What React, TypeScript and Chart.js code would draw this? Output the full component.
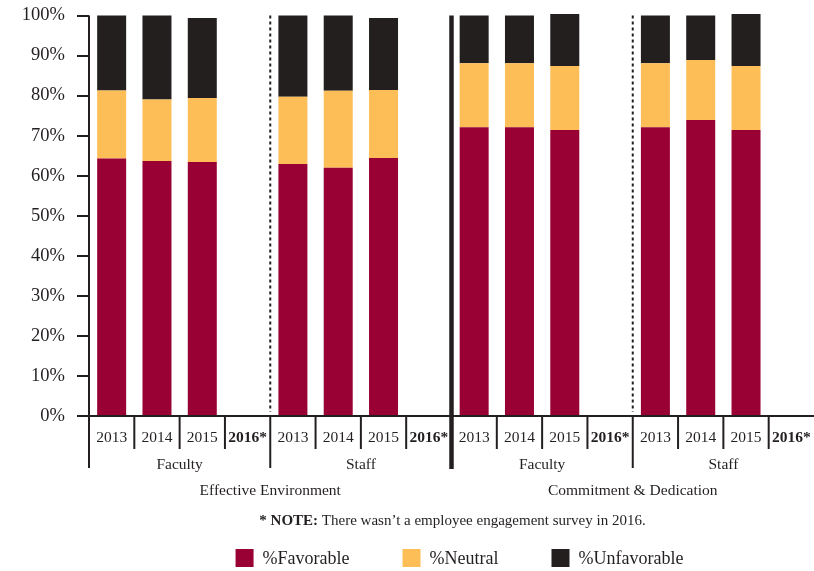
import React, { useEffect, useRef } from 'react';
import { Chart, registerables } from 'chart.js';

Chart.register(...registerables);

const years = ['2013', '2014', '2015', '2016*'];
const groups = ['Faculty', 'Staff', 'Faculty', 'Staff'];
const sections = ['Effective Environment', 'Commitment & Dedication'];
const categories = groups.flatMap(() => years);

const favorable = [64.3, 63.7, 63.4, null, 62.9, 62.0, 64.4, null, 72.1, 72.1, 71.4, null, 72.1, 73.9, 71.4, null];
const neutral = [17.0, 15.3, 16.0, null, 16.8, 19.2, 17.0, null, 16.0, 16.0, 16.0, null, 16.0, 15.0, 16.0, null];
const unfavorable = [18.7, 21.0, 20.0, null, 20.3, 18.8, 18.0, null, 11.9, 11.9, 13.0, null, 11.9, 11.1, 13.0, null];

const seriesNames = ['%Favorable', '%Neutral', '%Unfavorable'];
const seriesColors = ['#990033', '#FDBE57', '#221F1E'];
const noteBold = '* NOTE:';
const noteText = ' There wasn\u2019t a employee engagement survey in 2016.';

const INK = '#231f20';
const FONT = '"Liberation Serif", "Times New Roman", serif';

const decorPlugin = {
  id: 'decor',
  afterDraw(chart: any) {
    const { ctx, chartArea } = chart;
    const xs = chart.scales.x;
    const n = categories.length;
    const center = (i: number) => xs.getPixelForValue(i);
    const boundary = (k: number) => {
      if (k <= 0) return xs.left;
      if (k >= n) return xs.right;
      return (center(k - 1) + center(k)) / 2;
    };
    const top = chartArea.top;
    const bottom = chartArea.bottom;
    ctx.save();
    ctx.strokeStyle = INK;
    ctx.fillStyle = INK;

    // x axis line
    ctx.lineWidth = 2;
    ctx.beginPath();
    ctx.moveTo(xs.left - 12, bottom);
    ctx.lineTo(xs.right, bottom);
    ctx.stroke();

    for (let k = 0; k < n; k++) {
      const x = boundary(k);
      if (k === 0) {
        ctx.lineWidth = 2;
        ctx.setLineDash([]);
        ctx.beginPath();
        ctx.moveTo(x, top);
        ctx.lineTo(x, bottom + 52);
        ctx.stroke();
      } else if (k % 8 === 0) {
        ctx.lineWidth = 4.5;
        ctx.setLineDash([]);
        ctx.beginPath();
        ctx.moveTo(x, top);
        ctx.lineTo(x, bottom + 53);
        ctx.stroke();
      } else if (k % 4 === 0) {
        ctx.lineWidth = 2;
        ctx.setLineDash([3, 3]);
        ctx.beginPath();
        ctx.moveTo(x, top);
        ctx.lineTo(x, bottom - 4);
        ctx.stroke();
        ctx.setLineDash([]);
        ctx.beginPath();
        ctx.moveTo(x, bottom);
        ctx.lineTo(x, bottom + 52);
        ctx.stroke();
      } else {
        ctx.lineWidth = 2;
        ctx.setLineDash([]);
        ctx.beginPath();
        ctx.moveTo(x, bottom);
        ctx.lineTo(x, bottom + 33);
        ctx.stroke();
      }
    }

    ctx.textAlign = 'center';
    ctx.textBaseline = 'middle';
    // year labels
    categories.forEach((lab, i) => {
      ctx.font = (lab.includes('*') ? 'bold ' : '') + '15.5px ' + FONT;
      ctx.fillText(lab, center(i), bottom + 22);
    });
    // group labels
    ctx.font = '15.5px ' + FONT;
    groups.forEach((g, gi) => {
      const x = (boundary(gi * 4) + boundary(gi * 4 + 4)) / 2;
      ctx.fillText(g, x, bottom + 49);
    });
    // section labels
    sections.forEach((s, si) => {
      const x = (boundary(si * 8) + boundary(si * 8 + 8)) / 2;
      ctx.fillText(s, x, bottom + 75);
    });
    // note
    const mid = (xs.left + xs.right) / 2;
    ctx.font = 'bold 15px ' + FONT;
    const wb = ctx.measureText(noteBold).width;
    ctx.font = '15px ' + FONT;
    const wt = ctx.measureText(noteText).width;
    const nx = mid + 1 - (wb + wt) / 2;
    ctx.textAlign = 'left';
    ctx.font = 'bold 15px ' + FONT;
    ctx.fillText(noteBold, nx, bottom + 105);
    ctx.font = '15px ' + FONT;
    ctx.fillText(noteText, nx + wb, bottom + 105);

    // legend
    ctx.font = '18px ' + FONT;
    const box = 18;
    const gapIn = 9;
    const gapOut = 53;
    const widths = seriesNames.map((s) => ctx.measureText(s).width);
    const total = widths.reduce((a, w) => a + w + box + gapIn, 0) + gapOut * (seriesNames.length - 1);
    let lx = mid + 8 - total / 2;
    const ly = bottom + 142;
    seriesNames.forEach((s, i) => {
      ctx.fillStyle = seriesColors[i];
      ctx.fillRect(lx, ly - box / 2, box, box);
      ctx.fillStyle = INK;
      ctx.fillText(s, lx + box + gapIn, ly + 1);
      lx += box + gapIn + widths[i] + gapOut;
    });
    ctx.restore();
  },
};

export default function App() {
  const ref = useRef<HTMLCanvasElement | null>(null);
  useEffect(() => {
    document.body.style.margin = '0';
    const canvas = ref.current;
    if (!canvas) return;
    const values = [favorable, neutral, unfavorable];
    const chart = new Chart(canvas, {
      type: 'bar',
      data: {
        labels: categories,
        datasets: seriesNames.map((name, i) => ({
          label: name,
          data: values[i],
          backgroundColor: seriesColors[i],
          borderWidth: 0,
          barPercentage: 0.64,
          categoryPercentage: 1,
          clip: false as any,
        })),
      },
      options: {
        responsive: false,
        animation: false,
        layout: { padding: { top: 15.5, left: 0, right: 0, bottom: 0 } },
        plugins: { legend: { display: false }, tooltip: { enabled: false } },
        scales: {
          x: {
            stacked: true,
            grid: { display: false },
            border: { display: false },
            ticks: { display: false },
            afterFit: (s: any) => {
              s.height = 155;
              s.paddingLeft = 0;
              s.paddingRight = 0;
            },
          },
          y: {
            stacked: true,
            min: 0,
            max: 100,
            ticks: {
              stepSize: 10,
              callback: (v: any) => v + '%',
              color: INK,
              padding: 12,
              font: { family: FONT, size: 18.5 },
            },
            grid: { drawOnChartArea: false, tickLength: 12, color: INK, lineWidth: 2 },
            border: { display: false },
            afterFit: (s: any) => {
              s.width = 89;
              s.paddingTop = 0;
              s.paddingBottom = 0;
            },
          },
        },
      },
      plugins: [decorPlugin],
    } as any);
    return () => chart.destroy();
  }, []);
  return (
    <div style={{ position: 'absolute', left: 0, top: 0, width: 814, height: 571, background: '#fff' }}>
      <canvas ref={ref} width={814} height={571} style={{ display: 'block', width: 814, height: 571 }} />
    </div>
  );
}
